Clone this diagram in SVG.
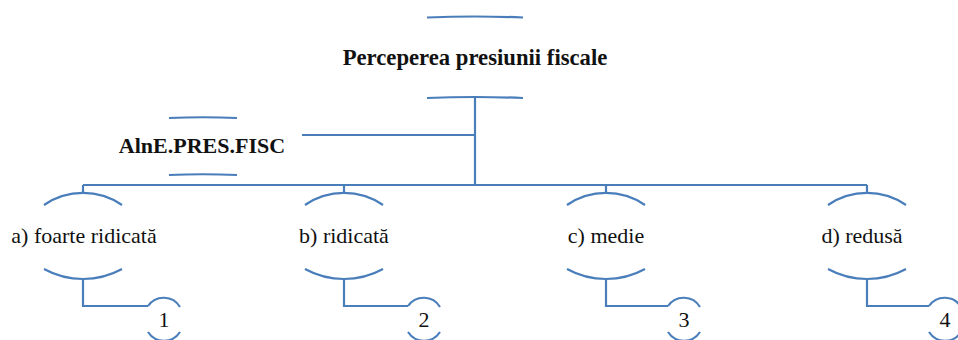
<svg xmlns="http://www.w3.org/2000/svg" width="958" height="340" viewBox="0 0 958 340">
  <style>
    .ln { fill: none; stroke: #4a7ebb; stroke-width: 2.2; }
    .hd { font-family: "Times New Roman", "Liberation Serif", "DejaVu Serif", serif; font-size: 22px; font-weight: bold; fill: #111; text-anchor: middle; }
    .lb { font-family: "Times New Roman", "Liberation Serif", "DejaVu Serif", serif; font-size: 22px; fill: #111; text-anchor: middle; }
  </style>
  <rect width="958" height="340" fill="#fff"/>

  <!-- connectors -->
  <g id="connectors" class="ln">
    <path d="M475,98 V185"/>
    <path d="M302,135 H475"/>
    <path d="M83,185 H867"/>
    <path d="M83,185 V193 M344,185 V193 M606,185 V193 M867,185 V193"/>
    <path d="M83,279 V306 H148"/>
    <path d="M344,279 V306 H408"/>
    <path d="M606,279 V306 H668"/>
    <path d="M867,279 V306 H929"/>
  </g>

  <!-- root node -->
  <g id="root">
    <path class="ln" d="M427,17.5 Q475,15.5 523,17.5"/>
    <path class="ln" d="M427,98 Q475,96 523,98"/>
    <text class="hd" x="475" y="65" style="font-size:22.7px">Perceperea presiunii fiscale</text>
  </g>

  <!-- assistant label node -->
  <g id="aine">
    <path class="ln" d="M169,118 Q203,116.5 237,118"/>
    <path class="ln" d="M169,175 Q203,173.5 237,175"/>
    <text class="hd" x="202" y="153">AlnE.PRES.FISC</text>
  </g>

  <!-- level-two nodes -->
  <g id="node-a">
    <path class="ln" d="M44,205 A69,69 0 0 1 122,205"/>
    <path class="ln" d="M44,269 A81,81 0 0 0 122,269"/>
    <text class="lb" x="84" y="243">a) foarte ridicată</text>
  </g>
  <g id="node-b">
    <path class="ln" d="M305,205 A69,69 0 0 1 383,205"/>
    <path class="ln" d="M305,269 A81,81 0 0 0 383,269"/>
    <text class="lb" x="344" y="243">b) ridicată</text>
  </g>
  <g id="node-c">
    <path class="ln" d="M567,205 A69,69 0 0 1 645,205"/>
    <path class="ln" d="M567,269 A81,81 0 0 0 645,269"/>
    <text class="lb" x="606" y="243">c) medie</text>
  </g>
  <g id="node-d">
    <path class="ln" d="M828,205 A69,69 0 0 1 906,205"/>
    <path class="ln" d="M828,269 A81,81 0 0 0 906,269"/>
    <text class="lb" x="862" y="243">d) redusă</text>
  </g>

  <!-- value nodes -->
  <g id="val-1">
    <path class="ln" d="M148,306 A19,19 0 0 1 180,307"/>
    <path class="ln" d="M148,332 A19,19 0 0 0 180,332"/>
    <text class="lb" x="164" y="327">1</text>
  </g>
  <g id="val-2">
    <path class="ln" d="M408,306 A19,19 0 0 1 440,307"/>
    <path class="ln" d="M408,332 A19,19 0 0 0 440,332"/>
    <text class="lb" x="424" y="327">2</text>
  </g>
  <g id="val-3">
    <path class="ln" d="M668,306 A19,19 0 0 1 700,307"/>
    <path class="ln" d="M668,332 A19,19 0 0 0 700,332"/>
    <text class="lb" x="684" y="327">3</text>
  </g>
  <g id="val-4">
    <path class="ln" d="M929,306 A19,19 0 0 1 961,307"/>
    <path class="ln" d="M929,332 A19,19 0 0 0 961,332"/>
    <text class="lb" x="945" y="327">4</text>
  </g>
</svg>
